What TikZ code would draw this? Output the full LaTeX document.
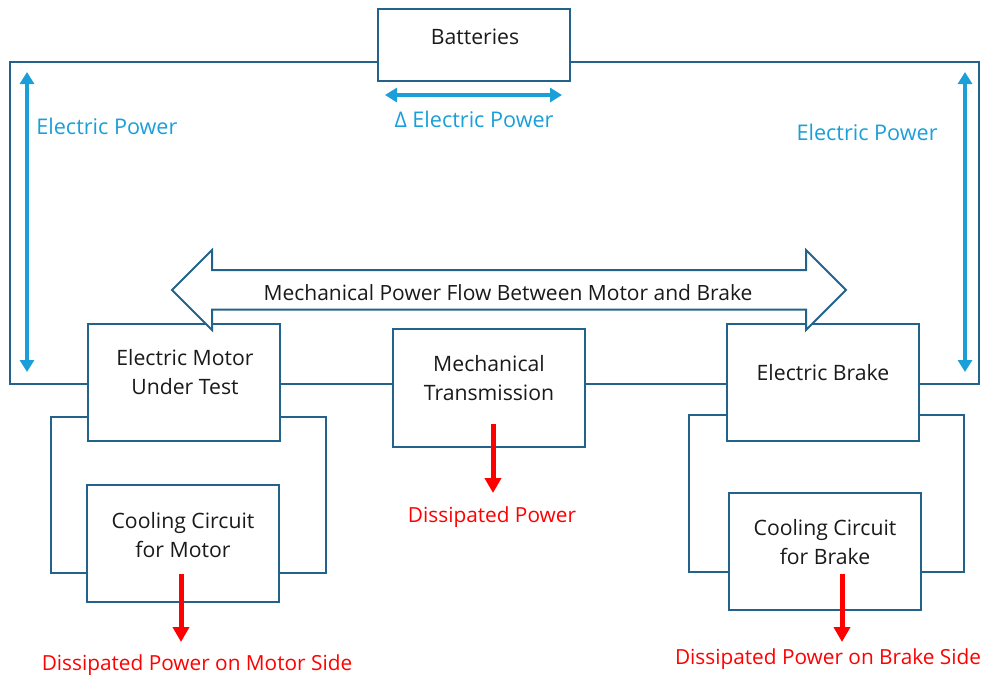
\documentclass[tikz,border=0pt]{standalone}
\usepackage{fontspec}
\setmainfont{Open Sans}
\usetikzlibrary{arrows.meta}
\definecolor{wirec}{HTML}{23628A}
\definecolor{epblue}{HTML}{1A9FD9}
\definecolor{txtc}{HTML}{1A1A1A}
\definecolor{dissred}{HTML}{FF0000}
\begin{document}
\begin{tikzpicture}[x=0.5pt,y=-0.5pt,
  font=\fontsize{10.6}{14.8}\selectfont,
  box/.style={draw=wirec,line width=1pt,fill=white,minimum width=96pt,inner sep=0pt},
  txt/.style={text=txtc,align=center,inner sep=0pt},
  wire/.style={draw=wirec,line width=1pt},
  eparrow/.style={draw=epblue,line width=2pt,{Triangle[width=7pt,length=6pt]}-{Triangle[width=7pt,length=6pt]}},
  eplabel/.style={text=epblue,inner sep=0pt,font=\fontsize{10.8}{13}\selectfont},
  dparrow/.style={draw=dissred,line width=2.5pt,-{Triangle[width=8pt,length=7.5pt]}},
  dplabel/.style={text=dissred,inner sep=0pt,font=\fontsize{10.4}{13}\selectfont}]
\useasboundingbox (0,0) rectangle (986,677);
% boxes
\node[box,minimum height=36pt] (bat) at (474,45) {};
\node[box,minimum height=58.5pt] (motor) at (183.5,382.5) {};
\node[box,minimum height=59pt] (trans) at (489,388) {};
\node[box,minimum height=58.5pt] (brake) at (823,382.5) {};
\node[box,minimum height=58.5pt] (cmotor) at (183,543.5) {};
\node[box,minimum height=58.5pt] (cbrake) at (825,551.5) {};
% texts
\node[txt] (batt) at (475,37) {Batteries};
\node[txt] (motort) at (185,372) {Electric Motor\\Under Test};
\node[txt] (transt) at (489,378) {Mechanical\\Transmission};
\node[txt] (braket) at (823,373) {Electric Brake};
\node[txt] (cmotort) at (183,535) {Cooling Circuit\\for Motor};
\node[txt] (cbraket) at (825,542) {Cooling Circuit\\for Brake};
% wire coordinates
\coordinate (tl) at (10,62);
\coordinate (tr) at (979,62);
\coordinate (bl) at (10,384);
\coordinate (br) at (979,384);
\coordinate (lct) at (51,417);
\coordinate (lcb) at (51,573);
\coordinate (rct) at (326,417);
\coordinate (rcb) at (326,573);
\coordinate (blct) at (689,415);
\coordinate (blcb) at (689,572);
\coordinate (brct) at (964,415);
\coordinate (brcb) at (964,572);
% wires
\draw[wire] (bat.west |- tl) -- (tl) -- (bl) -- (motor.west |- bl);
\draw[wire] (bat.east |- tr) -- (tr) -- (br) -- (brake.east |- br);
\draw[wire] (motor.east |- bl) -- (trans.west |- bl);
\draw[wire] (trans.east |- bl) -- (brake.west |- bl);
\draw[wire] (motor.west |- lct) -- (lct) -- (lcb) -- (cmotor.west |- lcb);
\draw[wire] (motor.east |- rct) -- (rct) -- (rcb) -- (cmotor.east |- rcb);
\draw[wire] (brake.west |- blct) -- (blct) -- (blcb) -- (cbrake.west |- blcb);
\draw[wire] (brake.east |- brct) -- (brct) -- (brcb) -- (cbrake.east |- brcb);
% electric power arrows
\coordinate (ela) at (27,72);
\coordinate (elb) at (27,372);
\coordinate (era) at (965,72);
\coordinate (erb) at (965,372);
\coordinate (dla) at (385,95);
\coordinate (dlb) at (562,95);
\draw[eparrow] (ela) -- (elb);
\draw[eparrow] (era) -- (erb);
\draw[eparrow] (dla) -- (dlb);
\node[eplabel,anchor=west] (epl) at (36,126) {Electric Power};
\node[eplabel,anchor=east] (epr) at (938,132) {Electric Power};
\node[eplabel] (dep) at (474,119) {Δ Electric Power};
% big mechanical arrow
\draw[wire,fill=white,line join=miter] (172,290) -- (212,250) -- (212,270) -- (806,270) -- (806,250) -- (846,290) -- (806,330) -- (806,309.5) -- (212,309.5) -- (212,330) -- cycle;
\node[txt,font=\fontsize{10.5}{13}\selectfont] (mech) at (508,293) {Mechanical Power Flow Between Motor and Brake};
% dissipated power
\coordinate (d1a) at (181,574);
\coordinate (d1b) at (181,642);
\coordinate (d2a) at (493,424);
\coordinate (d2b) at (493,493);
\coordinate (d3a) at (842,574);
\coordinate (d3b) at (842,642);
\draw[dparrow] (d1a) -- (d1b);
\draw[dparrow] (d2a) -- (d2b);
\draw[dparrow] (d3a) -- (d3b);
\node[dplabel] (dp1) at (197,665) {Dissipated Power on Motor Side};
\node[dplabel] (dp2) at (492,517) {Dissipated Power};
\node[dplabel] (dp3) at (828,659) {Dissipated Power on Brake Side};
\end{tikzpicture}
\end{document}
